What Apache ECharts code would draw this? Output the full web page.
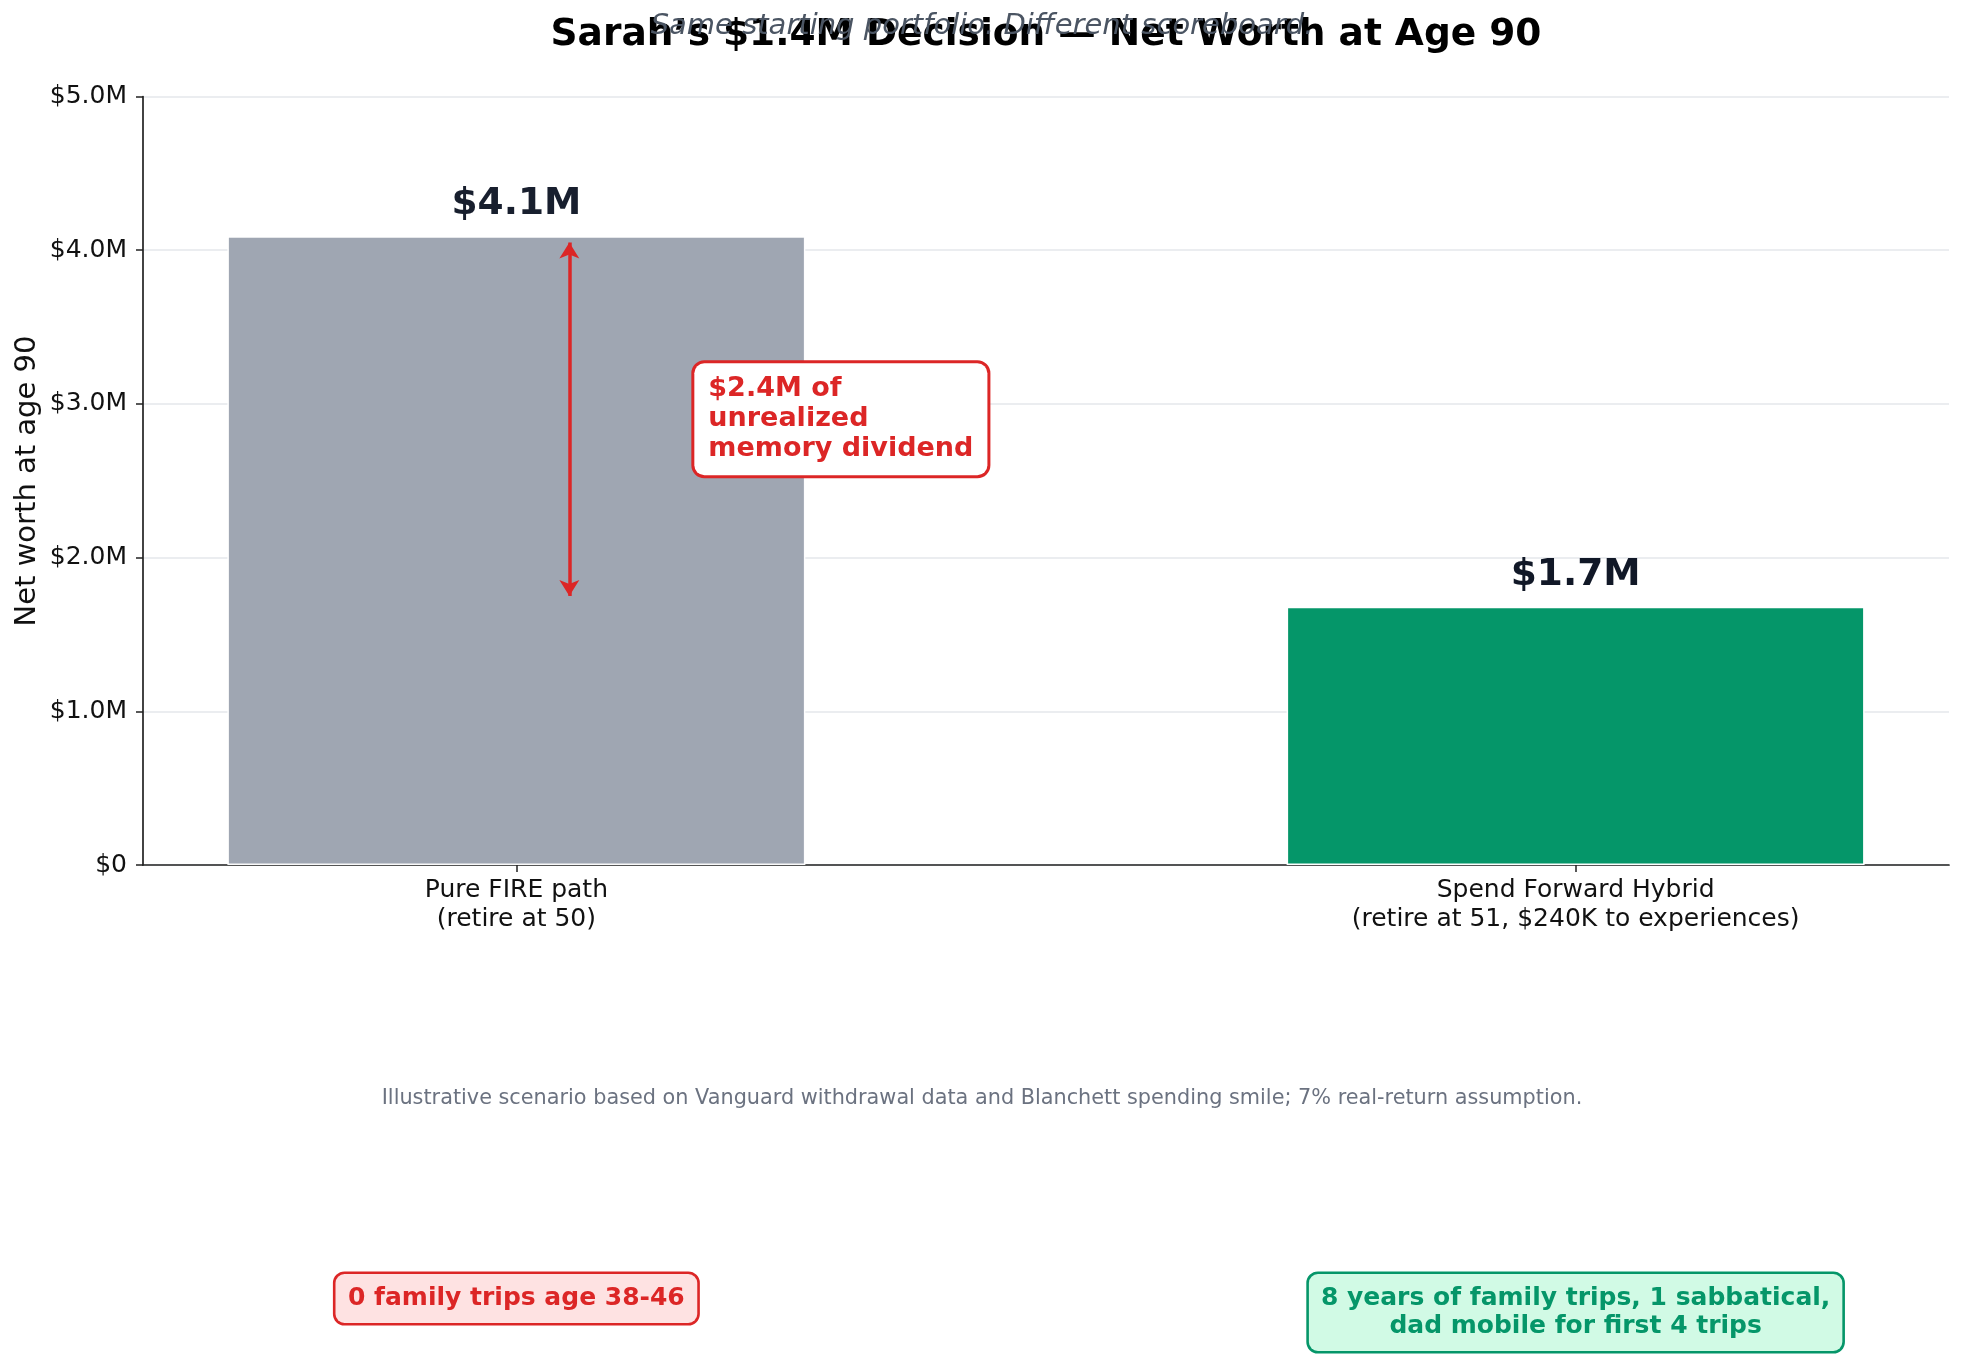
<!DOCTYPE html>
<html>
<head>
<meta charset="utf-8">
<script src="https://cdn.jsdelivr.net/npm/echarts@6.0.0/dist/echarts.min.js"></script>
<style>
  html, body { margin: 0; padding: 0; background: #fff; }
  #chart { width: 1964px; height: 1354px; }
</style>
</head>
<body>
<div id="chart"></div>
<script>
// values
const categories = [
  'Pure FIRE path\n(retire at 50)',
  'Spend Forward Hybrid\n(retire at 51, $240K to experiences)'
];
const netWorthM = [4.09, 1.68];          // net worth at age 90, $M
const yTickValues = [0, 1, 2, 3, 4, 5];
const yTickLabels = ['$0', '$1.0M', '$2.0M', '$3.0M', '$4.0M', '$5.0M'];
const outcomeNotes = [
  '0 family trips age 38-46',
  '8 years of family trips, 1 sabbatical,\ndad mobile for first 4 trips'
];
const gapArrow = [4.05, 1.75];           // arrow ends, $M
const gapArrowX = 0.05;
const gapNoteAt = [0.168, 2.9];

const barColors = ['#9ca3af', '#059669'];
const barOpacity = [0.97, 1];
const noteStyles = [
  { color: '#dc2626', bg: '#fee2e2' },
  { color: '#059669', bg: '#d1fae5' }
];
const FONT = '"DejaVu Sans", sans-serif';

const chart = echarts.init(document.getElementById('chart'));

const option = {
  animation: false,
  backgroundColor: '#fff',
  grid: { left: 143, right: 15, top: 96.5, bottom: 489, containLabel: false },
  xAxis: {
    type: 'value',
    min: -0.3525,
    max: 1.3525,
    splitLine: { show: false },
    axisLine: { show: true, onZero: false, lineStyle: { color: '#222', width: 1.7 } },
    axisTick: { show: true, length: 7, customValues: [0, 1], lineStyle: { color: '#222', width: 1.5 } },
    axisLabel: {
      customValues: [0, 1],
      margin: 11,
      fontFamily: FONT,
      fontSize: 25,
      lineHeight: 29,
      color: '#111',
      align: 'center',
      formatter: v => categories[Math.round(v)]
    }
  },
  yAxis: {
    type: 'value',
    min: 0,
    max: 5,
    interval: 1,
    axisLine: { show: true, onZero: false, lineStyle: { color: '#222', width: 1.7 } },
    axisTick: { show: true, length: 7, lineStyle: { color: '#222', width: 1.5 } },
    axisLabel: {
      margin: 16,
      fontFamily: FONT,
      fontSize: 25,
      color: '#111',
      formatter: v => yTickLabels[yTickValues.indexOf(v)]
    },
    splitLine: { show: true, lineStyle: { color: '#e5e7eb', width: 1.5 } }
  },
  series: [
    {
      type: 'bar',
      barWidth: 578,
      data: netWorthM.map((v, i) => ({
        value: [i, v],
        itemStyle: { color: barColors[i], opacity: barOpacity[i], borderColor: '#fff', borderWidth: 1.5 }
      })),
      label: {
        show: true,
        position: 'top',
        distance: 13,
        fontFamily: FONT,
        fontSize: 37.5,
        fontWeight: 'bold',
        color: '#111827',
        formatter: p => '$' + p.value[1].toFixed(1) + 'M'
      },
      markLine: {
        silent: true,
        symbol: ['arrow', 'arrow'],
        symbolSize: [15, 16],
        label: { show: false },
        lineStyle: { color: '#dc2626', width: 3.5, type: 'solid', opacity: 1 },
        data: [[
          { coord: [gapArrowX, gapArrow[0]] },
          { coord: [gapArrowX, gapArrow[1]] }
        ]]
      },
      z: 2
    },
    {
      type: 'scatter',
      symbolSize: 0,
      silent: true,
      itemStyle: { color: '#dc2626', opacity: 1 },
      data: [gapNoteAt],
      label: {
        show: true,
        position: 'right',
        distance: 0,
        formatter: '$' + (netWorthM[0] - netWorthM[1]).toFixed(1) + 'M of\nunrealized\nmemory dividend',
        fontFamily: FONT,
        fontSize: 27,
        fontWeight: 'bold',
        lineHeight: 30,
        color: '#dc2626',
        opacity: 1,
        align: 'left',
        backgroundColor: '#ffffff',
        borderColor: '#dc2626',
        borderWidth: 3,
        borderRadius: 10,
        padding: [11, 14, 11, 14]
      },
      z: 5
    }
  ]
};

chart.setOption(option);

const graphics = [
  {
    type: 'text', x: 1046, y: 35.6, z: 10,
    style: {
      text: 'Sarah\u2019s $1.4M Decision \u2014 Net Worth at Age 90',
      font: 'bold 37.5px ' + FONT, fill: '#000', align: 'center', verticalAlign: 'middle'
    }
  },
  {
    type: 'text', x: 982, y: 26.4, z: 11,
    style: {
      text: 'Same starting portfolio. Different scoreboard.',
      font: 'italic 29px ' + FONT, fill: '#4b5563', align: 'center', verticalAlign: 'middle'
    }
  },
  {
    type: 'text', x: 27.4, y: 481, rotation: Math.PI / 2, z: 10,
    style: {
      text: 'Net worth at age 90',
      font: '29px ' + FONT, fill: '#111', align: 'center', verticalAlign: 'middle'
    }
  },
  {
    type: 'text', x: 982, y: 1099, z: 10,
    style: {
      text: 'Illustrative scenario based on Vanguard withdrawal data and Blanchett spending smile; 7% real-return assumption.',
      font: '20.8px ' + FONT, fill: '#6b7280', align: 'center', verticalAlign: 'middle'
    }
  }
];

outcomeNotes.forEach((note, i) => {
  const px = chart.convertToPixel({ gridIndex: 0 }, [i, 0])[0];
  const twoLines = note.indexOf('\n') >= 0;
  graphics.push({
    type: 'text', x: px, y: 1274, z: 10,
    style: {
      text: note,
      font: 'bold 25px ' + FONT,
      fill: noteStyles[i].color,
      align: 'center',
      verticalAlign: 'top',
      lineHeight: twoLines ? 28 : 25,
      backgroundColor: noteStyles[i].bg,
      borderColor: noteStyles[i].color,
      borderWidth: 2.6,
      borderRadius: 9,
      padding: twoLines ? [10.5, 12] : [12, 12.5]
    }
  });
});

chart.setOption({ graphic: graphics });
</script>
</body>
</html>
